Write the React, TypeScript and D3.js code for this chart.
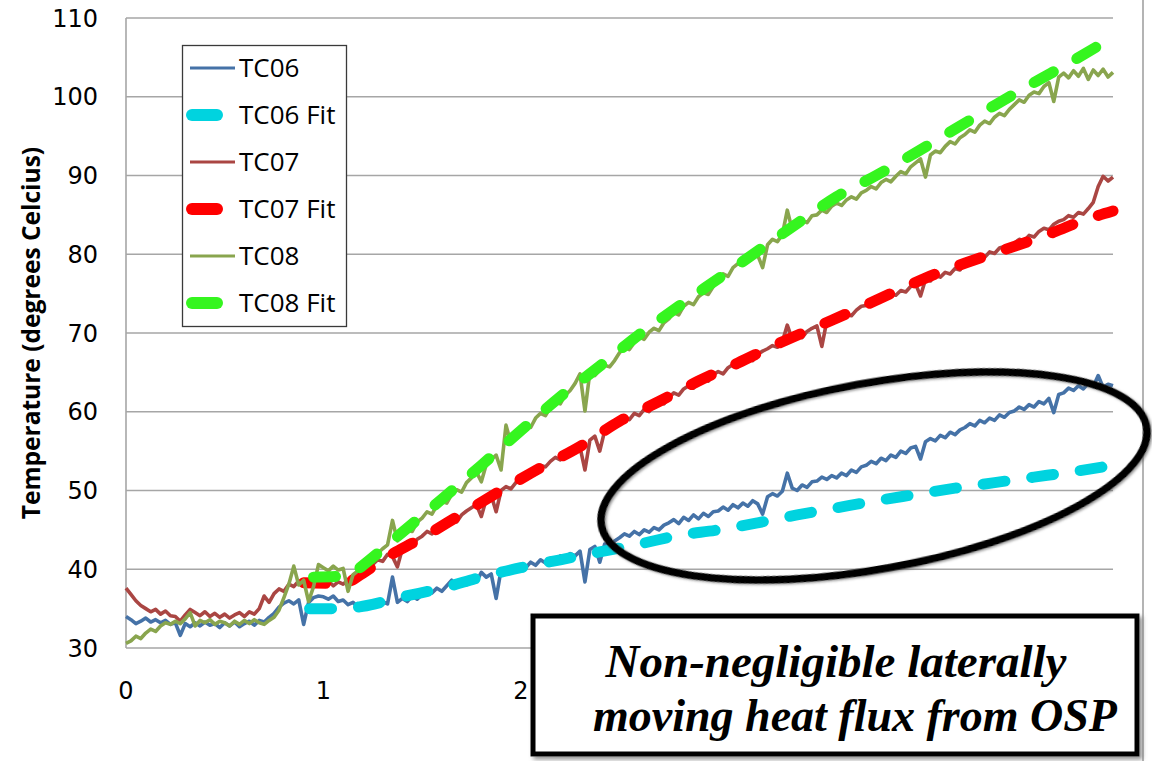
import React from "react";
import * as d3 from "d3";

// Chart canvas
const WIDTH = 1152;
const HEIGHT = 761;

// Time axis (hours) and temperature axis (°C)
const TIME_DOMAIN: [number, number] = [0, 5];
const TEMP_DOMAIN: [number, number] = [30, 110];
const TEMP_TICKS = [30, 40, 50, 60, 70, 80, 90, 100, 110];
const TIME_TICKS = [0, 1, 2];

// Thermocouple records, one sample every 0.025 h starting at t = 0
const SAMPLE_STEP = 0.025;

const tc06 = [
  34.0, 33.6, 33.1, 33.4, 33.8, 33.3, 33.6, 33.2, 33.5, 33.0,
  33.2, 31.6, 33.1, 32.7, 33.2, 32.8, 33.3, 32.9, 33.1, 32.6,
  33.2, 32.8, 33.3, 32.7, 33.1, 33.4, 32.9, 33.5, 33.3, 33.9,
  34.4, 35.2, 35.7, 36.0, 35.6, 36.1, 33.0, 35.8, 36.4, 36.6,
  36.5, 36.2, 36.6, 35.9, 36.1, 35.5, 35.8, 35.2, 35.6, 35.3,
  35.7, 35.4, 35.9, 35.6, 39.0, 35.8, 36.3, 35.9, 36.6, 36.2,
  36.8, 37.3, 37.0, 37.6, 37.2, 37.9, 38.6, 37.7, 38.2, 38.0,
  38.8, 38.4, 39.6, 39.0, 39.4, 36.3, 39.9, 39.6, 40.3, 39.9,
  40.6, 40.2, 40.9, 40.5, 41.2, 40.8, 41.4, 41.0, 41.7, 41.3,
  42.0, 41.7, 42.3, 38.4, 42.5, 42.9, 40.9, 43.2, 42.8, 43.6,
  44.0, 44.5, 44.2, 44.8, 44.4, 45.0, 44.7, 45.3, 45.0, 45.6,
  45.9, 46.3, 45.8, 46.6, 46.2, 46.9, 46.4, 47.1, 46.7, 47.3,
  47.4, 47.9, 47.5, 48.2, 47.8, 48.4, 48.0, 48.7, 48.3, 47.0,
  49.2, 49.6, 49.3, 49.9, 52.2, 50.3, 50.0, 50.7, 50.4, 51.1,
  51.2, 51.7, 51.4, 51.9, 51.6, 52.2, 51.9, 52.6, 52.3, 53.0,
  53.2, 53.7, 53.4, 54.1, 53.8, 54.5, 54.2, 55.0, 54.7, 55.4,
  55.6, 54.0, 56.2, 56.6, 56.3, 57.0, 56.7, 57.4, 57.1, 57.7,
  58.0, 58.5, 58.2, 58.9, 58.6, 59.2, 58.9, 59.6, 59.3, 59.9,
  60.1, 60.6, 60.3, 60.9, 60.6, 61.3, 61.0, 61.7, 59.9, 62.2,
  62.4, 63.0, 62.7, 63.3, 62.9, 63.6, 63.2, 64.6, 63.1, 63.5,
  63.3,
];

const tc07 = [
  37.6, 36.8, 36.0, 35.4, 35.0, 34.6, 34.9, 34.3, 34.7, 34.1,
  34.0, 33.4, 34.2, 34.9, 34.5, 34.1, 34.6, 34.0, 34.4, 33.9,
  34.3, 33.8, 34.2, 34.5, 34.0, 34.6, 34.3, 35.0, 36.6, 35.8,
  36.9, 37.5, 37.2, 38.1, 37.8, 38.5, 38.3, 38.7, 38.2, 38.6,
  38.0, 38.5, 37.9, 38.4, 38.1, 38.6, 38.3, 38.8, 39.2, 39.8,
  40.6, 41.2, 41.0, 41.9, 41.6, 40.3, 42.6, 43.2, 42.9, 43.8,
  44.2, 44.8, 44.5, 45.3, 45.8, 45.6, 46.3, 46.0, 46.9, 47.4,
  47.8, 48.2, 46.7, 48.9, 49.4, 47.3, 50.0, 50.5, 50.2, 51.0,
  51.6, 52.3, 51.9, 52.8, 53.2, 53.0, 53.7, 54.2, 53.9, 54.6,
  55.2, 55.7, 55.5, 52.6, 56.4, 56.9, 55.0, 57.6, 58.0, 58.6,
  58.7, 59.3, 59.0, 59.8, 59.5, 60.3, 60.0, 60.8, 61.2, 61.0,
  61.8, 62.4, 62.1, 62.9, 63.3, 63.0, 63.8, 64.2, 63.9, 64.7,
  65.1, 64.8, 65.6, 66.0, 65.7, 66.4, 66.8, 66.5, 67.3, 67.7,
  68.0, 68.4, 68.2, 68.9, 71.0, 69.2, 69.7, 69.4, 70.2, 70.6,
  70.9, 68.3, 71.5, 71.3, 72.0, 71.8, 72.4, 72.2, 72.9, 73.4,
  73.5, 74.0, 73.8, 74.5, 74.3, 75.0, 74.8, 75.4, 75.2, 75.9,
  76.2, 74.7, 76.8, 76.6, 77.3, 77.1, 77.7, 77.5, 78.2, 78.0,
  78.9, 78.7, 79.5, 79.8, 79.6, 80.3, 80.1, 80.8, 81.0, 80.7,
  81.4, 81.9, 81.7, 82.4, 82.2, 82.9, 83.3, 83.1, 83.8, 84.2,
  84.4, 84.9, 84.7, 85.3, 85.1, 85.8, 86.6, 88.6, 89.9, 89.3,
  89.8,
];

const tc08 = [
  30.6, 30.9, 31.5, 31.2, 31.9, 32.4, 32.1, 32.8, 33.2, 33.0,
  33.4, 33.1, 33.7, 34.5, 32.8, 33.5, 33.2, 33.6, 33.0, 33.4,
  33.2, 32.8, 33.4, 33.0, 33.5, 33.1, 33.6, 33.2, 33.0, 33.5,
  33.9, 34.8, 36.4, 38.1, 40.4, 38.0, 38.6, 35.9, 37.8, 40.6,
  40.2, 39.8, 40.4, 39.9, 40.1, 37.2, 39.3, 39.8, 40.4, 40.9,
  41.3, 42.0, 42.6, 43.1, 46.2, 43.6, 44.4, 45.0, 44.8, 46.0,
  46.5, 47.3, 47.0, 48.1, 48.6, 48.4, 49.5, 50.1, 49.8, 51.0,
  51.6, 52.4, 51.1, 53.3, 53.9, 54.5, 52.6, 58.3, 56.0, 56.7,
  57.4, 58.3, 58.0, 59.2, 59.8, 59.5, 60.6, 61.2, 61.0, 62.1,
  62.7, 63.6, 64.8, 60.1, 65.0, 64.6, 65.3, 65.9, 65.7, 66.5,
  67.5, 68.2, 67.9, 68.8, 69.5, 69.2, 70.1, 70.6, 70.3, 71.3,
  71.8, 72.6, 72.3, 73.4, 73.9, 73.6, 74.6, 75.1, 74.9, 75.9,
  76.7, 77.5, 77.2, 78.3, 78.8, 78.6, 79.6, 80.1, 79.9, 78.3,
  81.2, 81.9, 81.6, 82.5, 85.6, 83.1, 83.8, 84.3, 84.0, 84.9,
  85.0, 85.6, 85.3, 86.1, 86.5, 86.2, 86.9, 87.3, 87.0, 87.8,
  88.1, 88.6, 88.3, 89.1, 89.5, 89.2, 89.9, 90.5, 90.2, 91.1,
  91.6, 92.1, 89.8, 92.6, 93.1, 92.9, 93.7, 94.3, 94.0, 94.8,
  95.2, 95.8, 95.5, 96.4, 96.9, 96.6, 97.4, 97.9, 97.6, 98.4,
  99.0, 99.6, 99.3, 100.2, 100.6, 100.4, 101.3, 101.8, 99.4, 102.5,
  103.0, 102.4, 103.3, 102.6, 103.6, 102.2, 103.4, 102.7, 103.5, 102.5,
  103.1,
];

// Model fits: [time (h), temperature (°C)]
const tc06Fit: [number, number][] = [
  [0.93, 35.0], [1.1, 35.0], [1.2, 35.3], [1.4, 36.5], [1.6, 37.6],
  [1.8, 39.0], [2.0, 40.2], [2.2, 41.2], [2.4, 42.2], [2.6, 43.2],
  [2.8, 44.3], [3.0, 45.0], [3.2, 45.9], [3.4, 46.9], [3.6, 47.8],
  [3.8, 48.7], [4.0, 49.5], [4.2, 50.3], [4.4, 51.0], [4.6, 51.7],
  [4.8, 52.4], [5.0, 53.2],
];

const tc07Fit: [number, number][] = [
  [0.9, 38.3], [1.1, 38.2], [1.2, 39.5], [1.3, 41.2], [1.5, 44.0],
  [1.7, 47.0], [1.9, 50.0], [2.1, 52.9], [2.3, 55.6], [2.5, 58.8],
  [2.7, 61.3], [2.9, 63.9], [3.1, 66.2], [3.3, 68.6], [3.5, 70.8],
  [3.7, 73.0], [3.9, 75.3], [4.1, 77.5], [4.3, 79.3], [4.5, 81.0],
  [4.7, 82.8], [4.85, 84.3], [5.0, 85.5],
];

const tc08Fit: [number, number][] = [
  [0.95, 39.0], [1.13, 39.2], [1.2, 40.5], [1.4, 44.7], [1.6, 48.9],
  [1.8, 53.2], [2.0, 57.6], [2.2, 61.9], [2.4, 65.8], [2.6, 69.8],
  [2.8, 73.4], [3.0, 76.9], [3.2, 80.4], [3.4, 83.9], [3.6, 87.3],
  [3.8, 90.0], [4.0, 92.9], [4.2, 95.9], [4.4, 98.9], [4.6, 101.8],
  [4.8, 104.6], [5.0, 107.6],
];

const legendNames = ["TC06", "TC06 Fit", "TC07", "TC07 Fit", "TC08", "TC08 Fit"];

const yAxisTitle = "Temperature (degrees Celcius)";
const noteLines = ["Non-negligible laterally", "moving heat flux from OSP"];

// Styling
const COLORS = {
  tc06: "#4572a7",
  tc06Fit: "#00d3df",
  tc07: "#aa4643",
  tc07Fit: "#ff0000",
  tc08: "#89a54e",
  tc08Fit: "#35f51f",
};
const GRID = "#a6a6a6";
const PLOT = { left: 126, right: 1113, top: 18, bottom: 648 };
const DATA_WIDTH = 3.6;
const FIT_WIDTH = 11;
const FIT_DASH = "22 27";

export default function App() {
  const x = d3.scaleLinear().domain(TIME_DOMAIN).range([PLOT.left, PLOT.right]);
  const y = d3.scaleLinear().domain(TEMP_DOMAIN).range([PLOT.bottom, PLOT.top]);

  const sampleLine = d3
    .line<number>()
    .x((_, i) => x(i * SAMPLE_STEP))
    .y((d) => y(d))
    .curve(d3.curveLinear);

  const fitLine = d3
    .line<[number, number]>()
    .x((d) => x(d[0]))
    .y((d) => y(d[1]))
    .curve(d3.curveMonotoneX);

  const series = [
    { key: "tc06", d: sampleLine(tc06), color: COLORS.tc06, fit: false },
    { key: "tc06Fit", d: fitLine(tc06Fit), color: COLORS.tc06Fit, fit: true },
    { key: "tc07", d: sampleLine(tc07), color: COLORS.tc07, fit: false },
    { key: "tc07Fit", d: fitLine(tc07Fit), color: COLORS.tc07Fit, fit: true },
    { key: "tc08", d: sampleLine(tc08), color: COLORS.tc08, fit: false },
    { key: "tc08Fit", d: fitLine(tc08Fit), color: COLORS.tc08Fit, fit: true },
  ];

  const legendColors = [
    COLORS.tc06, COLORS.tc06Fit, COLORS.tc07, COLORS.tc07Fit, COLORS.tc08, COLORS.tc08Fit,
  ];

  const tickFont = "'DejaVu Sans', Verdana, sans-serif";
  const labelFont = "'Open Sans', 'Noto Sans', sans-serif";
  const noteFont = "'Liberation Serif', 'Times New Roman', serif";

  // Highlight ellipse around the diverging TC06 pair
  const ell = { cx: 874, cy: 476, rx: 277, ry: 93, rot: -10.3 };

  return (
    <div style={{ position: "absolute", left: 0, top: 0 }}>
      <svg width={WIDTH} height={HEIGHT} viewBox={`0 0 ${WIDTH} ${HEIGHT}`} style={{ display: "block", background: "#fff" }}>
        <defs>
          <filter id="boxShadow" x="-5%" y="-10%" width="115%" height="130%">
            <feDropShadow dx="3" dy="3" stdDeviation="2" floodColor="#7a7a7a" floodOpacity="0.8" />
          </filter>
          <filter id="ringSoft" x="-5%" y="-10%" width="110%" height="120%">
            <feDropShadow dx="1.5" dy="1.5" stdDeviation="1.2" floodColor="#555" floodOpacity="0.6" />
          </filter>
        </defs>

        {/* outer frame edge */}
        <line x1={1143} x2={1143} y1={0} y2={HEIGHT} stroke="#b4b4b4" strokeWidth={2} />

        {/* horizontal gridlines */}
        {TEMP_TICKS.map((t) => (
          <line key={`g${t}`} x1={PLOT.left} x2={PLOT.right} y1={y(t)} y2={y(t)} stroke={GRID} strokeWidth={1.6} />
        ))}
        {/* left axis */}
        <line x1={PLOT.left} x2={PLOT.left} y1={PLOT.top} y2={PLOT.bottom} stroke={GRID} strokeWidth={1.6} />

        {/* y tick labels */}
        {TEMP_TICKS.map((t) => (
          <text key={`yl${t}`} x={98} y={y(t)} dy="0.36em" textAnchor="end" fontFamily={tickFont} fontSize={24} fill="#000">
            {t}
          </text>
        ))}
        {/* x tick labels */}
        {TIME_TICKS.map((t) => (
          <text key={`xl${t}`} x={x(t)} y={699} textAnchor="middle" fontFamily={tickFont} fontSize={24} fill="#000">
            {t}
          </text>
        ))}

        {/* y axis title */}
        <text
          transform={`translate(40, ${(PLOT.top + PLOT.bottom) / 2}) rotate(-90)`}
          textAnchor="middle"
          fontFamily={labelFont}
          fontWeight={700}
          fontSize={24.5}
          fill="#000"
        >
          {yAxisTitle}
        </text>

        {/* series */}
        {series.map((s) =>
          s.fit ? (
            <path
              key={s.key}
              d={s.d ?? ""}
              fill="none"
              stroke={s.color}
              strokeWidth={FIT_WIDTH}
              strokeLinecap="round"
              strokeDasharray={FIT_DASH}
            />
          ) : (
            <path key={s.key} d={s.d ?? ""} fill="none" stroke={s.color} strokeWidth={DATA_WIDTH} strokeLinejoin="round" />
          )
        )}

        {/* legend */}
        <g>
          <rect x={182.5} y={45.5} width={164} height={281} fill="#fff" stroke="#3a3a3a" strokeWidth={1.3} />
          {legendNames.map((name, i) => {
            const cy = 68 + i * 47;
            const isFit = name.endsWith("Fit");
            return (
              <g key={name}>
                {isFit ? (
                  <line x1={192} x2={217} y1={cy} y2={cy} stroke={legendColors[i]} strokeWidth={12} strokeLinecap="round" />
                ) : (
                  <line x1={190} x2={235} y1={cy} y2={cy} stroke={legendColors[i]} strokeWidth={3} />
                )}
                <text x={239} y={cy} dy="0.36em" fontFamily={labelFont} fontSize={26} fill="#000">
                  {name}
                </text>
              </g>
            );
          })}
        </g>

        {/* highlight ring */}
        <ellipse
          cx={ell.cx}
          cy={ell.cy}
          rx={ell.rx}
          ry={ell.ry}
          transform={`rotate(${ell.rot}, ${ell.cx}, ${ell.cy})`}
          fill="none"
          stroke="#000"
          strokeWidth={7.5}
          filter="url(#ringSoft)"
        />

        {/* note box */}
        <rect x={533} y={616} width={604} height={138} fill="#fff" stroke="#000" strokeWidth={5} filter="url(#boxShadow)" />
        <text x={836} y={677} textAnchor="middle" fontFamily={noteFont} fontStyle="italic" fontWeight={700} fontSize={47} fill="#000">
          {noteLines[0]}
        </text>
        <text x={855} y={731} textAnchor="middle" fontFamily={noteFont} fontStyle="italic" fontWeight={700} fontSize={46} fill="#000">
          {noteLines[1]}
        </text>
      </svg>
    </div>
  );
}
